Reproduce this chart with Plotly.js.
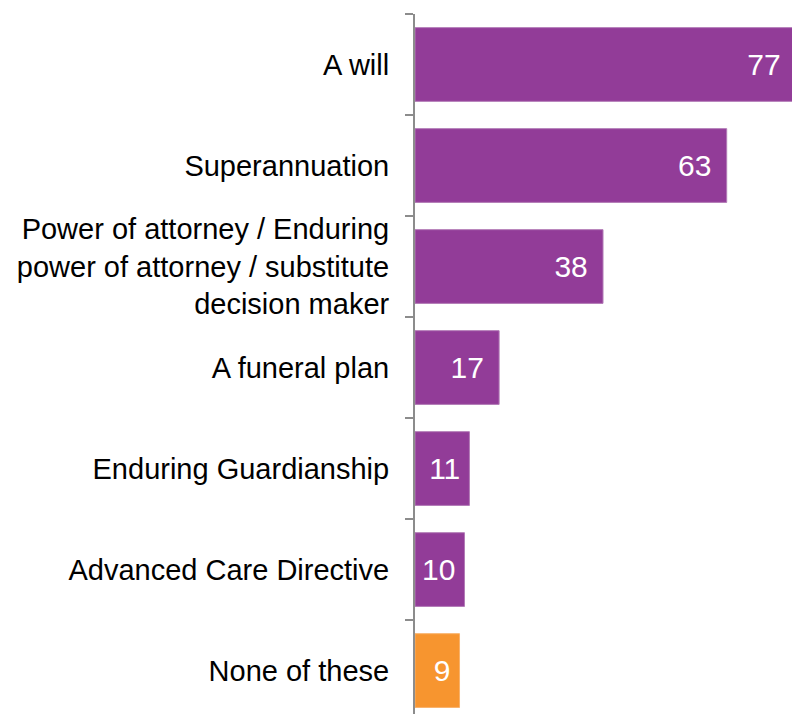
<!DOCTYPE html>
<html>
<head>
<meta charset="utf-8">
<script src="https://cdn.plot.ly/plotly-3.0.1.min.js"></script>
<style>html,body{margin:0;padding:0;background:#fff;}#chart{width:792px;height:714px;}</style>
</head>
<body>
<div id="chart"></div>
<script>
var categories = [
  "A will",
  "Superannuation",
  "Power of attorney / Enduring<br>power of attorney / substitute<br>decision maker",
  "A funeral plan",
  "Enduring Guardianship",
  "Advanced Care Directive",
  "None of these"
];
var values = [77, 63, 38, 17, 11, 10, 9];
var barColors = ["#923C98", "#923C98", "#923C98", "#923C98", "#923C98", "#923C98", "#F7952F"];
var lineColors = ["#B27BB6", "#B27BB6", "#B27BB6", "#B27BB6", "#B27BB6", "#B27BB6", "#F9B26A"];

function labelFor(v) {
  var spacer = v >= 15 ? "\u00A0\u00A0" : "\u00A0";
  return String(v) + '<span style="font-size:22px">' + spacer + '</span>';
}

var trace = {
  type: "bar",
  orientation: "h",
  x: values,
  y: categories,
  marker: {color: barColors, line: {color: lineColors, width: 1}},
  text: values.map(labelFor),
  textposition: "inside",
  insidetextanchor: "end",
  textangle: 0,
  textfont: {family: "Liberation Sans, Arial, sans-serif", size: 30, color: "#ffffff"},
  constraintext: "none",
  hoverinfo: "none"
};

var layout = {
  width: 792,
  height: 714,
  margin: {l: 415, r: 0, t: 14, b: 0, pad: 0},
  paper_bgcolor: "#ffffff",
  plot_bgcolor: "#ffffff",
  showlegend: false,
  bargap: 0.27,
  font: {family: "Liberation Sans, Arial, sans-serif", color: "#000000"},
  xaxis: {visible: false, range: [0, 76.2], fixedrange: true},
  yaxis: {
    type: "category",
    categoryorder: "array",
    categoryarray: categories,
    range: [6.43, -0.5],
    showline: true,
    linecolor: "#8C8C8C",
    linewidth: 2,
    ticks: "outside",
    tickson: "boundaries",
    ticklen: 8,
    tickwidth: 2,
    tickcolor: "#8C8C8C",
    showgrid: false,
    zeroline: false,
    tickfont: {family: "Liberation Sans, Arial, sans-serif", size: 29, color: "#000000"},
    ticklabelstandoff: 18,
    fixedrange: true
  }
};

Plotly.newPlot("chart", [trace], layout, {displayModeBar: false, staticPlot: true});
</script>
</body>
</html>
